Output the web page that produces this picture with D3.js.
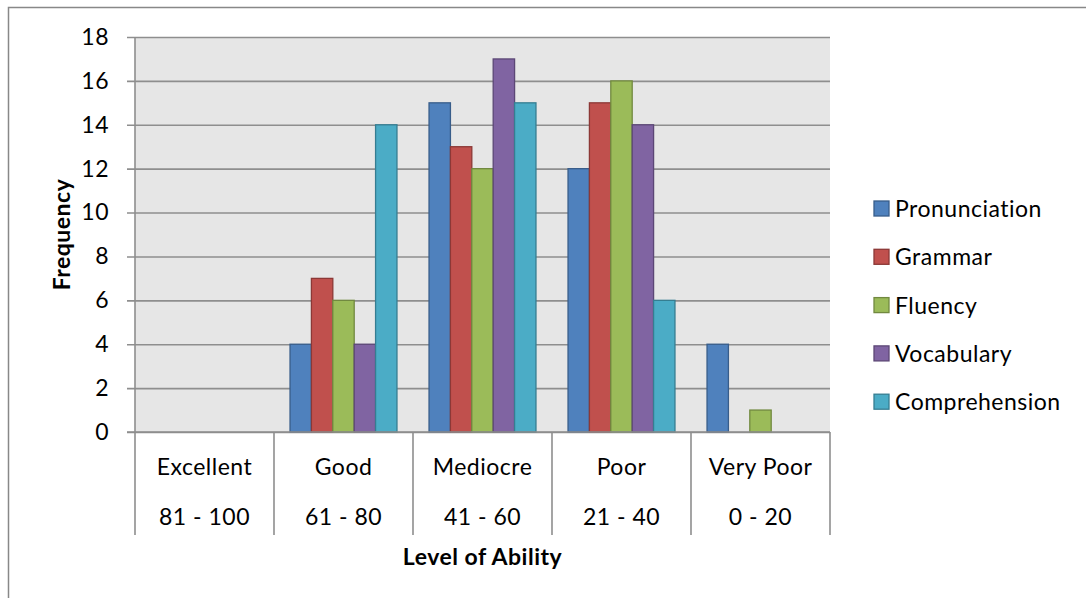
<!DOCTYPE html>
<html>
<head>
<meta charset="utf-8">
<script src="https://cdn.jsdelivr.net/npm/d3@7"></script>
<style>
  html, body { margin: 0; padding: 0; background: #fff; }
  svg { display: block; font-family: Lato, "Open Sans", sans-serif; }
  text { letter-spacing: 0.5px; }
</style>
</head>
<body>
<svg id="chart" width="1086" height="598"></svg>
<script>
// Ability levels (two label rows per category)
const levels = ["Excellent", "Good", "Mediocre", "Poor", "Very Poor"];
const ranges = ["81 - 100", "61 - 80", "41 - 60", "21 - 40", "0 - 20"];

// Frequency per skill, one value per level
const seriesNames = ["Pronunciation", "Grammar", "Fluency", "Vocabulary", "Comprehension"];
const pronunciation = [0, 4, 15, 12, 4];
const grammar       = [0, 7, 13, 15, 0];
const fluency       = [0, 6, 12, 16, 1];
const vocabulary    = [0, 4, 17, 14, 0];
const comprehension = [0, 14, 15, 6, 0];
const yTicks = [0, 2, 4, 6, 8, 10, 12, 14, 16, 18];

const fills   = ["#4F81BD", "#C0504D", "#9BBB59", "#8064A2", "#4BACC6"];
const strokes = ["#385D8A", "#8C3836", "#71893F", "#5C4776", "#357D91"];

const series = [pronunciation, grammar, fluency, vocabulary, comprehension];

const FS = 23;
const svg = d3.select("#chart");
const plot = { left: 135, right: 830, top: 37, bottom: 432 };

// outer chart frame
svg.append("rect")
  .attr("x", 8.5).attr("y", 7.5)
  .attr("width", 1100).attr("height", 620)
  .attr("fill", "#fff").attr("stroke", "#888").attr("stroke-width", 1.5);

const x0 = d3.scaleBand().domain(levels).range([plot.left, plot.right]).padding(0);
const bw = x0.bandwidth() / 6.5;
const x1 = d3.scaleBand().domain(seriesNames)
  .range([bw * 0.75, x0.bandwidth() - bw * 0.75]).padding(0);
const y = d3.scaleLinear().domain([0, 18]).range([plot.bottom, plot.top]);

// plot background
svg.append("rect")
  .attr("x", plot.left).attr("y", plot.top)
  .attr("width", plot.right - plot.left).attr("height", plot.bottom - plot.top)
  .attr("fill", "#E6E6E6");

// gridlines + ticks
const yAxis = d3.axisLeft(y).tickValues(yTicks)
  .tickSize(-(plot.right - plot.left)).tickPadding(26);
const gy = svg.append("g").attr("transform", `translate(${plot.left},0)`).call(yAxis);
gy.select(".domain").remove();
gy.selectAll(".tick line")
  .attr("x1", -8)
  .attr("stroke", "#8E8E8E").attr("stroke-width", 1.6);
gy.selectAll(".tick text")
  .attr("font-size", FS).attr("fill", "#000")
  .attr("font-family", "Lato, sans-serif");

// vertical axis line
svg.append("line")
  .attr("x1", plot.left).attr("x2", plot.left)
  .attr("y1", plot.top).attr("y2", plot.bottom)
  .attr("stroke", "#8E8E8E").attr("stroke-width", 1.6);

// bars
const groups = svg.append("g").selectAll("g")
  .data(levels).join("g")
  .attr("transform", d => `translate(${x0(d)},0)`);

groups.selectAll("rect")
  .data((lvl, i) => seriesNames.map((s, k) => ({ s, k, v: series[k][i] })))
  .join("rect")
  .filter(d => d.v > 0)
  .attr("x", d => x1(d.s))
  .attr("y", d => y(d.v))
  .attr("width", x1.bandwidth())
  .attr("height", d => y(0) - y(d.v))
  .attr("fill", d => fills[d.k])
  .attr("stroke", d => strokes[d.k])
  .attr("stroke-width", 1.3);

// category table under the axis
const tableBottom = 535;
svg.append("line")
  .attr("x1", plot.left - 8).attr("x2", plot.right)
  .attr("y1", plot.bottom).attr("y2", plot.bottom)
  .attr("stroke", "#8E8E8E").attr("stroke-width", 1.6);

const bounds = levels.map(l => x0(l)).concat([plot.right]);
svg.append("g").selectAll("line")
  .data(bounds).join("line")
  .attr("x1", d => d).attr("x2", d => d)
  .attr("y1", plot.bottom).attr("y2", tableBottom)
  .attr("stroke", "#8E8E8E").attr("stroke-width", 1.6);

const cat = svg.append("g").attr("font-size", FS).attr("text-anchor", "middle");
cat.selectAll("text.lvl").data(levels).join("text")
  .attr("class", "lvl")
  .attr("x", d => x0(d) + x0.bandwidth() / 2)
  .attr("y", 467).attr("dy", "0.35em")
  .text(d => d);
cat.selectAll("text.rng").data(ranges).join("text")
  .attr("class", "rng")
  .attr("x", (d, i) => x0(levels[i]) + x0.bandwidth() / 2)
  .attr("y", 517).attr("dy", "0.35em")
  .text(d => d);

// axis titles
svg.append("text")
  .attr("x", (plot.left + plot.right) / 2).attr("y", 557).attr("dy", "0.35em")
  .attr("text-anchor", "middle").attr("font-weight", "bold").attr("font-size", FS)
  .text("Level of Ability");

svg.append("text")
  .attr("transform", `translate(62,${(plot.top + plot.bottom) / 2}) rotate(-90)`)
  .attr("dy", "0.35em")
  .attr("text-anchor", "middle").attr("font-weight", "bold").attr("font-size", FS)
  .text("Frequency");

// legend
const legend = svg.append("g").selectAll("g")
  .data(seriesNames).join("g")
  .attr("transform", (d, i) => `translate(874,${209 + i * 48.3})`);
legend.append("rect")
  .attr("x", 0).attr("y", -8).attr("width", 15).attr("height", 15)
  .attr("fill", (d, i) => fills[i]).attr("stroke", (d, i) => strokes[i]).attr("stroke-width", 1.3);
legend.append("text")
  .attr("x", 21).attr("y", 0).attr("dy", "0.35em")
  .attr("font-size", FS)
  .text(d => d);
</script>
</body>
</html>
